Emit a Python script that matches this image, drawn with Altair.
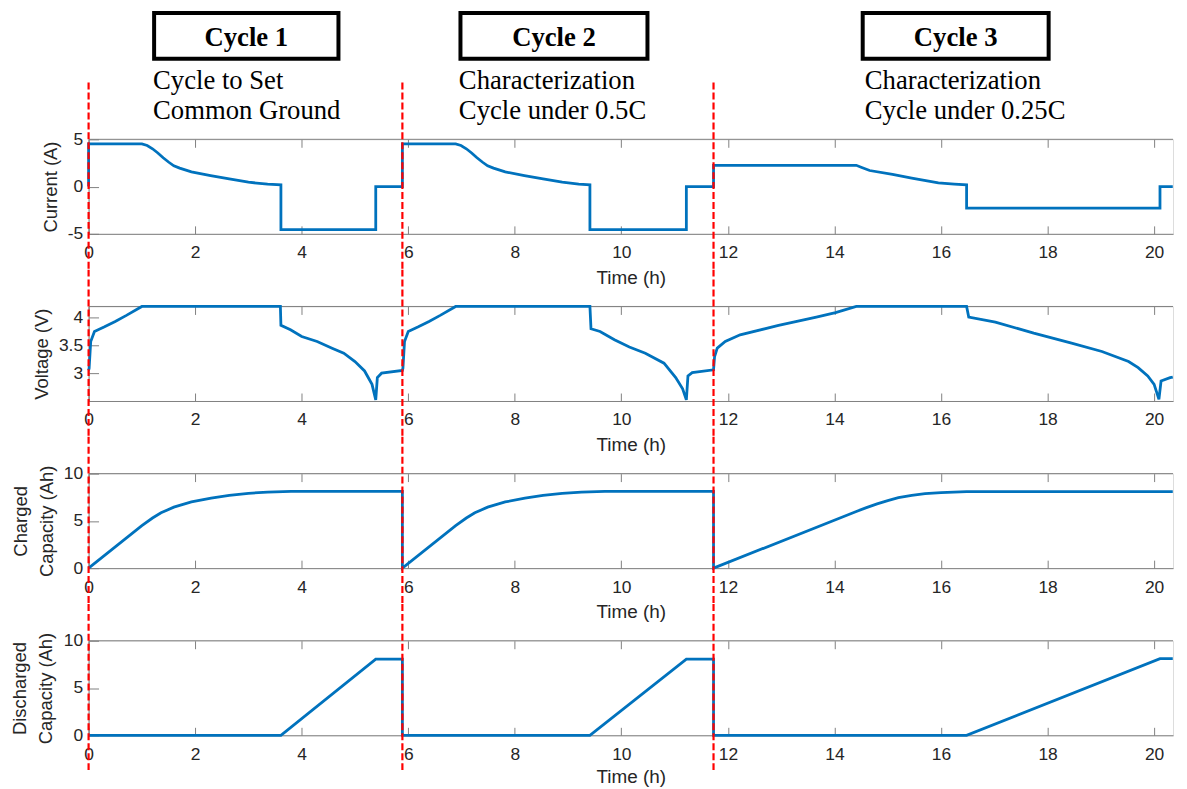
import altair as alt
import pandas as pd

# ---------------- data ----------------
# Current (A)
cur_t = [0.00, 0.00, 1.00, 1.10, 1.20, 1.30, 1.40, 1.50, 1.60, 1.71, 1.93, 2.29, 2.64, 3.00, 3.36, 3.61, 3.61,
         5.39, 5.39, 5.89,
         5.89, 6.89, 6.99, 7.09, 7.19, 7.29, 7.39, 7.49, 7.60, 7.82, 8.18, 8.53, 8.89, 9.20, 9.41, 9.41,
         11.22, 11.22, 11.73,
         11.73, 14.41, 14.50, 14.66, 15.09, 15.45, 15.95, 16.25, 16.48, 16.48, 20.11, 20.11, 20.35]
cur_v = [0.00, 4.52, 4.52, 4.35, 4.00, 3.55, 3.05, 2.60, 2.20, 1.95, 1.55, 1.17, 0.82, 0.46, 0.25, 0.18, -4.55,
         -4.55, 0.00, 0.00,
         4.52, 4.52, 4.35, 4.00, 3.55, 3.05, 2.60, 2.20, 1.95, 1.55, 1.17, 0.82, 0.46, 0.25, 0.18, -4.55,
         -4.55, 0.00, 0.00,
         2.25, 2.25, 2.05, 1.70, 1.28, 0.89, 0.39, 0.26, 0.18, -2.28, -2.28, 0.00, 0.00]

# Voltage (V)
volt_t = [0.00, 0.01, 0.04, 0.11, 0.29, 0.50, 0.71, 1.00, 3.60, 3.61, 3.79, 4.00, 4.29, 4.57, 4.79, 5.00,
          5.18, 5.32, 5.39, 5.42, 5.50, 5.89,
          5.90, 5.93, 6.00, 6.18, 6.39, 6.60, 6.89, 9.41, 9.43, 9.60, 9.87, 10.15, 10.45, 10.80, 11.02,
          11.15, 11.22, 11.25, 11.33, 11.73,
          11.75, 11.80, 11.95, 12.23, 12.95, 13.66, 14.02, 14.41, 16.48, 16.52, 17.02, 17.74, 18.45,
          19.02, 19.52, 19.70, 19.88, 20.00, 20.09, 20.13, 20.30, 20.35]
volt_v = [3.05, 3.09, 3.57, 3.75, 3.83, 3.93, 4.04, 4.20, 4.20, 3.86, 3.78, 3.66, 3.57, 3.45, 3.36, 3.21,
          3.04, 2.80, 2.52, 2.92, 3.00, 3.05,
          3.09, 3.57, 3.75, 3.83, 3.93, 4.04, 4.20, 4.20, 3.80, 3.75, 3.60, 3.47, 3.36, 3.18, 2.92,
          2.72, 2.52, 2.95, 3.01, 3.06,
          3.30, 3.45, 3.57, 3.69, 3.86, 4.01, 4.09, 4.20, 4.20, 4.01, 3.92, 3.72, 3.54,
          3.39, 3.21, 3.10, 2.95, 2.80, 2.53, 2.86, 2.92, 2.93]

# Charged capacity (Ah)
chg_t = [0.00, 1.00, 1.20, 1.36, 1.60, 1.93, 2.30, 2.64, 3.00, 3.36, 3.80, 5.89, 5.89,
         6.89, 7.09, 7.25, 7.49, 7.82, 8.19, 8.53, 8.89, 9.25, 9.69, 11.73, 11.73,
         14.41, 14.60, 14.80, 15.00, 15.20, 15.45, 15.70, 16.00, 16.48, 20.35]
chg_v = [0.00, 4.50, 5.30, 5.85, 6.45, 7.00, 7.40, 7.70, 7.92, 8.05, 8.12, 8.12, 0.00,
         4.50, 5.30, 5.85, 6.45, 7.00, 7.40, 7.70, 7.92, 8.05, 8.12, 8.12, 0.00,
         6.00, 6.40, 6.80, 7.15, 7.45, 7.70, 7.88, 8.00, 8.10, 8.10]

# Discharged capacity (Ah)
dis_t = [0.00, 3.61, 5.39, 5.89, 5.89, 9.41, 11.22, 11.73, 11.73, 16.48, 20.11, 20.35]
dis_v = [0.00, 0.00, 8.05, 8.05, 0.00, 0.00, 8.05, 8.05, 0.00, 0.00, 8.10, 8.10]

# Cycle boundaries (red dashed lines)
cycle_starts = [0.00, 5.89, 11.73]

# Header boxes and descriptions
box_start = [1.23, 6.98, 14.53]
box_end = [4.69, 10.49, 18.02]
box_label = ["Cycle 1", "Cycle 2", "Cycle 3"]
desc_x = [1.21, 6.95, 14.57]
desc_line1 = ["Cycle to Set", "Characterization", "Characterization"]
desc_line2 = ["Common Ground", "Cycle under 0.5C", "Cycle under 0.25C"]

x_ticks = [0, 2, 4, 6, 8, 10, 12, 14, 16, 18, 20]

# ---------------- layout/style ----------------
PX_PER_H = 53.55
W = 1090
H = 95
T_MAX = W / PX_PER_H
BLUE = "#0072BD"
AXC = "#808080"
TXT = "#262626"
SANS = "Liberation Sans"
SERIF = "Liberation Serif"
TITLE_FS = 18.5
XTITLE_FS = 19
LABEL_FS = 17.5
HDR_FS = 26.8


def series_df(t, v):
    return pd.DataFrame({"t": t, "v": v, "i": list(range(len(t)))})


x_scale = alt.Scale(domain=[0, T_MAX], nice=False, zero=False)


def make_x_axis(title_y):
    return alt.Axis(values=x_ticks, title="Time (h)", titleFont=SANS, titleFontSize=XTITLE_FS,
                    titleFontWeight="normal", titleColor=TXT, titleY=title_y, titleBaseline="middle",
                    labelFont=SANS, labelFontSize=LABEL_FS, labelColor=TXT, labelBaseline="middle",
                    labelPadding=19, labelFlush=False, ticks=False, tickSize=0,
                    domain=True, domainColor=AXC, domainWidth=1,
                    grid=True, gridColor=AXC, gridWidth=1, gridDash=[8, H - 16], gridOpacity=1)


one = pd.DataFrame({"k": [0]})


def panel(t, v, title, domain, yvals, title_x, rule_top, rule_bot, title_y=44, extra=None):
    y_axis = alt.Axis(values=yvals, labelExpr="datum.value + ''", title=title, titleFont=SANS,
                      titleFontSize=TITLE_FS, titleFontWeight="normal", titleColor=TXT,
                      titleX=title_x, titleBaseline="middle", titleLineHeight=26,
                      labelFont=SANS, labelFontSize=LABEL_FS, labelColor=TXT, labelPadding=6,
                      labelFlush=False, ticks=False, tickSize=0,
                      domain=True, domainColor=AXC, domainWidth=1,
                      grid=True, gridColor=AXC, gridWidth=1, gridDash=[10, 3000], gridOpacity=1)
    line = alt.Chart(series_df(t, v)).mark_line(color=BLUE, strokeWidth=2.8).encode(
        x=alt.X("t:Q", scale=x_scale, axis=make_x_axis(title_y)),
        y=alt.Y("v:Q", scale=alt.Scale(domain=domain, nice=False, zero=False), axis=y_axis),
        order="i:Q",
    )
    top_edge = alt.Chart(one).mark_rule(color=AXC, strokeWidth=1).encode(
        x=alt.value(0), x2=alt.value(W), y=alt.value(0))
    rules = alt.Chart(pd.DataFrame({"t": cycle_starts})).mark_rule(
        color="#FF0000", strokeDash=[7, 3], strokeWidth=2.2
    ).encode(x=alt.X("t:Q", scale=x_scale), y=alt.value(rule_top), y2=alt.value(rule_bot))
    layers = [top_edge, line, rules]
    if extra:
        layers = extra + layers
    return alt.layer(*layers).properties(width=W, height=H)


# header elements for the first panel
hdr = pd.DataFrame({"x0": box_start, "x1": box_end, "label": box_label,
                    "xc": [(a + b) / 2 for a, b in zip(box_start, box_end)],
                    "dx": desc_x, "l1": desc_line1, "l2": desc_line2})
boxes = alt.Chart(hdr).mark_rect(fill="white", stroke="black", strokeWidth=4).encode(
    x=alt.X("x0:Q", scale=x_scale), x2="x1:Q", y=alt.value(-127), y2=alt.value(-81))
box_txt = alt.Chart(hdr).mark_text(font=SERIF, fontSize=HDR_FS, fontWeight="bold", color="black",
                                   baseline="alphabetic", align="center").encode(
    x=alt.X("xc:Q", scale=x_scale), y=alt.value(-94), text="label:N")
d1 = alt.Chart(hdr).mark_text(font=SERIF, fontSize=HDR_FS, color="black",
                              baseline="alphabetic", align="left").encode(
    x=alt.X("dx:Q", scale=x_scale), y=alt.value(-51), text="l1:N")
d2 = alt.Chart(hdr).mark_text(font=SERIF, fontSize=HDR_FS, color="black",
                              baseline="alphabetic", align="left").encode(
    x=alt.X("dx:Q", scale=x_scale), y=alt.value(-20), text="l2:N")

p1 = panel(cur_t, cur_v, "Current (A)", [-5, 5], [-5, 0, 5], -38, -57, H + 37,
           extra=[boxes, box_txt, d1, d2])
p2 = panel(volt_t, volt_v, "Voltage (V)", [2.5, 4.2], [3, 3.5, 4], -47, -37, H + 37)
p3 = panel(chg_t, chg_v, ["Charged", "Capacity (Ah)"], [0, 10], [0, 5, 10], -68, -37, H + 37)
p4 = panel(dis_t, dis_v, ["Discharged", "Capacity (Ah)"], [0, 10], [0, 5, 10], -69, -37, 132,
           title_y=41)

chart = alt.vconcat(p1, p2, p3, p4, spacing=73, bounds="flush").properties(
    padding={"left": 2, "top": 0, "right": 0, "bottom": 0}
).configure_view(strokeWidth=0, stroke=None).configure(background="white")

chart.save("out.html", embed_options={"renderer": "svg", "actions": False})
